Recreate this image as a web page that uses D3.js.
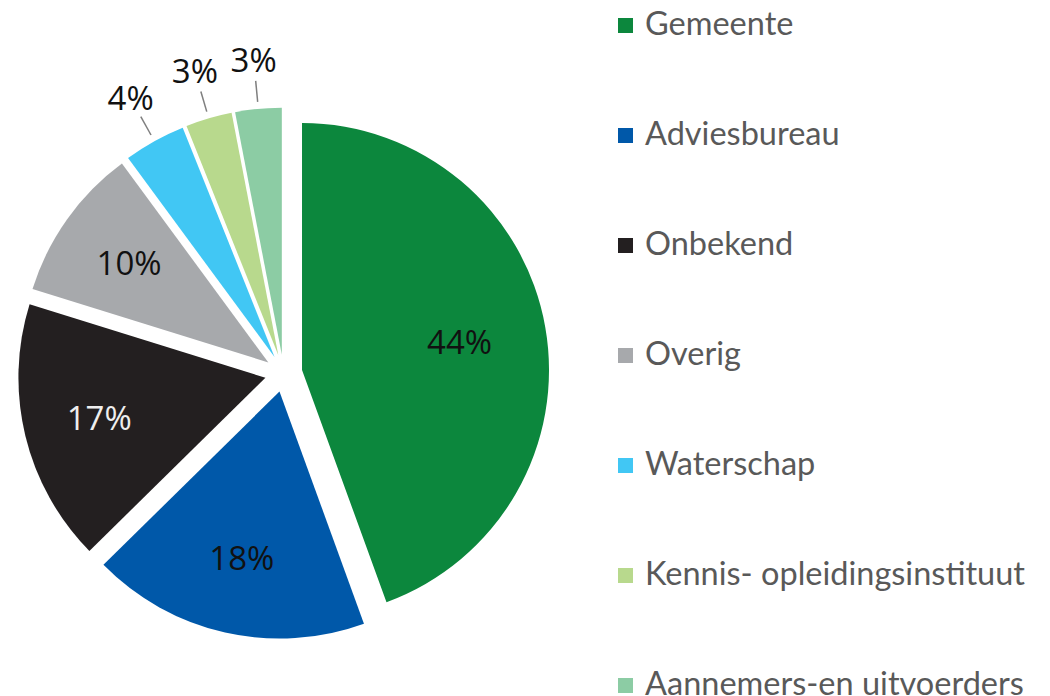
<!DOCTYPE html>
<html>
<head>
<meta charset="utf-8">
<script src="https://cdn.jsdelivr.net/npm/d3@7"></script>
<style>
  body { margin: 0; background: #fff; }
  svg { display: block; }
</style>
</head>
<body>
<script>
// data
var categories = ["Gemeente", "Adviesbureau", "Onbekend", "Overig", "Waterschap", "Kennis- opleidingsinstituut", "Aannemers-en uitvoerders"];
var values = [44, 18, 17, 10, 4, 3, 3];
var colors = ["#0c873d", "#0058a9", "#231f20", "#a7a9ac", "#41c7f4", "#b8d98d", "#8ccca4"];
var labelColors = ["#111", "#111", "#eee", "#111", "#111", "#111", "#111"];

var W = 1050, H = 696;
var cx = 283.6, cy = 373.3;   // pie centre
var R = 247;                  // radius
var explode = 18.7;           // every slice pushed out

var data = categories.map(function (c, i) {
    return { name: c, value: values[i], color: colors[i], lc: labelColors[i] };
});

var svg = d3.select("body").append("svg")
    .attr("width", W)
    .attr("height", H);

var pie = d3.pie().sort(null).value(d => d.value);
var arc = d3.arc().innerRadius(0).outerRadius(R);
var arcs = pie(data);

function mid(d) { return (d.startAngle + d.endAngle) / 2; }
function polar(a, r) { return [Math.sin(a) * r, -Math.cos(a) * r]; }

var g = svg.append("g").attr("transform", `translate(${cx},${cy})`);

var slice = g.selectAll("g.slice")
    .data(arcs)
    .enter()
    .append("g")
    .attr("class", "slice")
    .attr("transform", function (d) {
        var p = polar(mid(d), explode);
        return `translate(${p[0]},${p[1]})`;
    });

slice.append("path")
    .attr("d", arc)
    .style("fill", d => d.data.color);

// labels inside the bigger slices
slice.filter(d => d.data.value >= 5)
    .append("text")
    .attr("x", d => polar(mid(d), d.data.value > 30 ? 160 : 171)[0])
    .attr("y", d => polar(mid(d), d.data.value > 30 ? 160 : 171)[1])
    .attr("text-anchor", "middle")
    .attr("dy", "0.36em")
    .style("font-family", "'Open Sans', sans-serif")
    .style("font-size", "33px")
    .style("fill", d => d.data.lc)
    .text(d => d.data.value + "%");

// small slices get leader lines and outside labels
var small = slice.filter(d => d.data.value < 5);
small.append("line")
    .attr("x1", d => polar(mid(d), 254)[0])
    .attr("y1", d => polar(mid(d), 254)[1])
    .attr("x2", d => polar(mid(d), 275)[0])
    .attr("y2", d => polar(mid(d), 275)[1])
    .style("stroke", "#7f7f7f")
    .style("stroke-width", 1.5);
small.append("text")
    .attr("x", d => polar(mid(d), 296)[0])
    .attr("y", d => polar(mid(d), 296)[1])
    .attr("text-anchor", "middle")
    .attr("dy", "0.36em")
    .style("font-family", "'Open Sans', sans-serif")
    .style("font-size", "33px")
    .style("fill", "#111")
    .text(d => d.data.value + "%");

// legend
var ly = d3.scaleLinear().domain([0, 1]).range([25.5, 135.5]);
var legend = svg.append("g").selectAll("g")
    .data(data)
    .enter()
    .append("g")
    .attr("transform", (d, i) => `translate(618,${ly(i)})`);

legend.append("rect")
    .attr("x", 0)
    .attr("y", -7.5)
    .attr("width", 15)
    .attr("height", 15)
    .style("fill", d => d.color);

legend.append("text")
    .attr("x", 27)
    .attr("dy", "0.3em")
    .style("font-family", "Lato, sans-serif")
    .style("font-size", "32.5px")
    .style("fill", "#595959")
    .text(d => d.name);
</script>
</body>
</html>
